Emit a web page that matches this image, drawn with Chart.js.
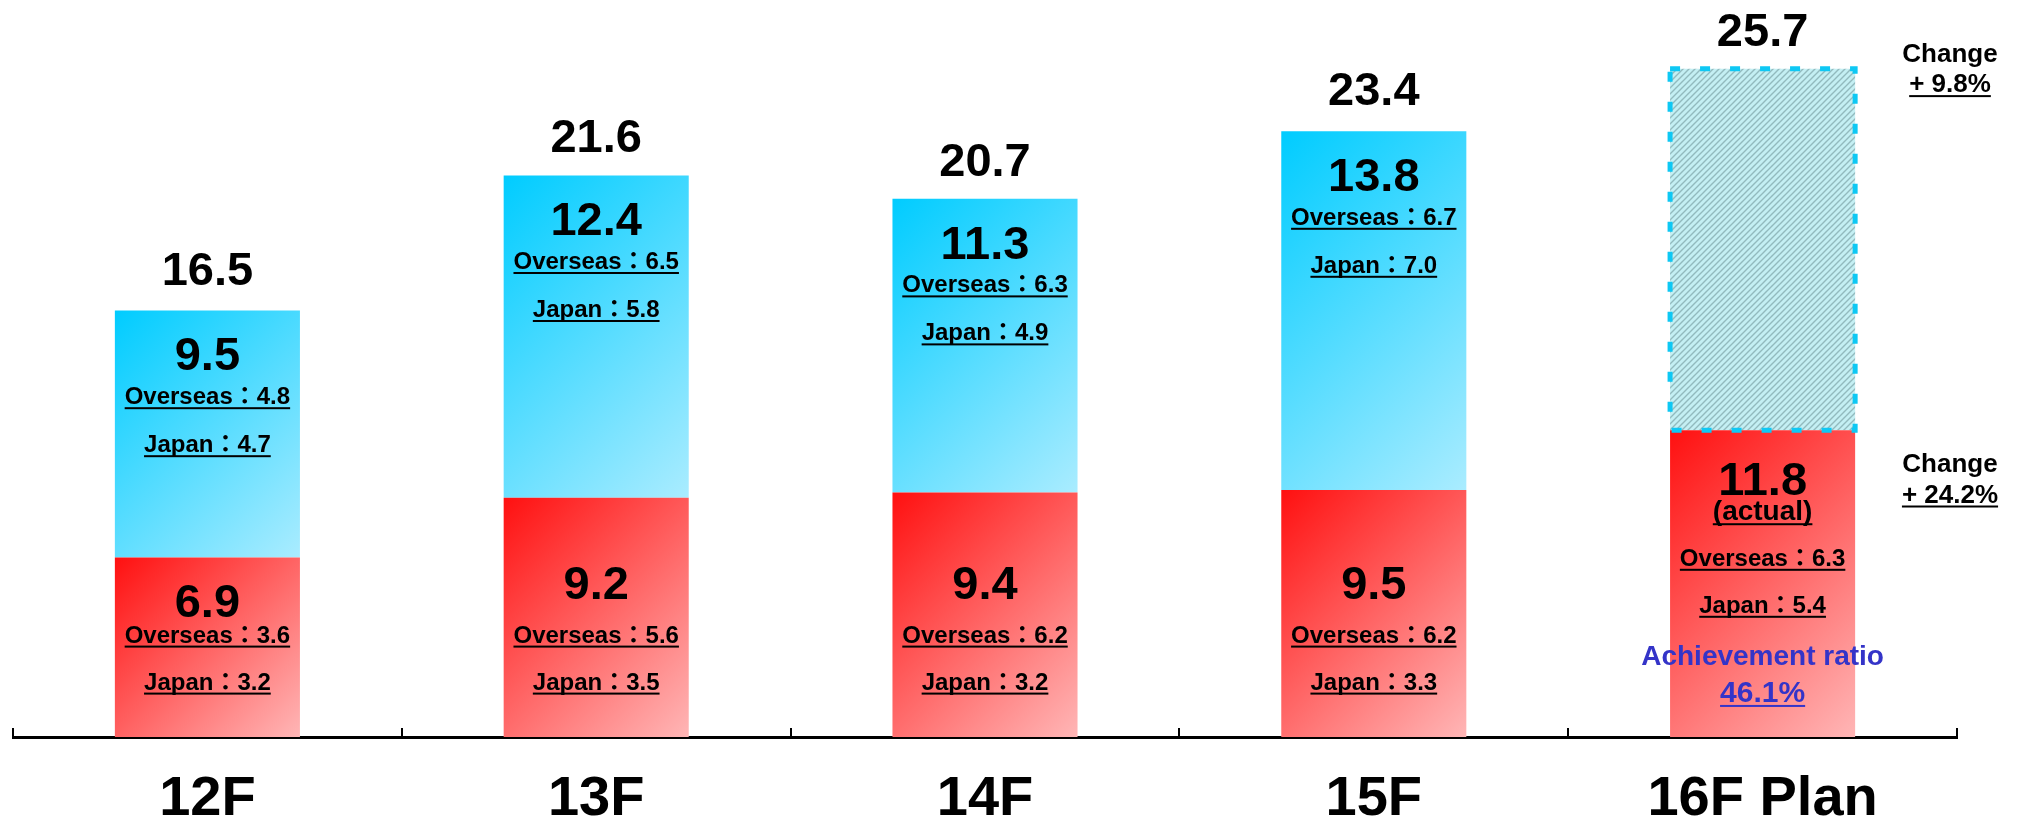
<!DOCTYPE html>
<html>
<head>
<meta charset="utf-8">
<script src="https://cdn.jsdelivr.net/npm/chart.js@4.4.1/dist/chart.umd.min.js"></script>
<style>
  html, body { margin: 0; padding: 0; background: #fff; }
  #wrap { width: 2020px; height: 821px; }
</style>
</head>
<body>
<div id="wrap"><canvas id="sales" width="2020" height="821"></canvas></div>
<script>
// fiscal years and the two halves of each year
var years = ['12F', '13F', '14F', '15F', '16F Plan'];
var firstHalf = [6.9, 9.2, 9.4, 9.5, 11.8];
var secondHalf = [9.5, 12.4, 11.3, 13.8, null];
var totals = [16.5, 21.6, 20.7, 23.4, 25.7];

// breakdown shown inside each segment
var overseasFirst = [3.6, 5.6, 6.2, 6.2, 6.3];
var japanFirst = [3.2, 3.5, 3.2, 3.3, 5.4];
var overseasSecond = [4.8, 6.5, 6.3, 6.7, null];
var japanSecond = [4.7, 5.8, 4.9, 7.0, null];

var planIndex = 4;
var achievementRatio = 46.1;
var changeYear = 9.8;
var changeFirstHalf = 24.2;

// the part of the plan that is not yet reached
var planRest = years.map(function (y, i) {
  return i === planIndex ? Math.round((totals[i] - firstHalf[i]) * 10) / 10 : null;
});

var FONT = '"Liberation Sans", Arial, "Noto Sans CJK JP", sans-serif';
var BAR_SHARE = 0.476;

// 45 degree gradient over one bar segment
function diagonalFill(from, to) {
  return function (context) {
    var chart = context.chart;
    if (!chart.chartArea || context.type !== 'data' || context.raw == null) return from;
    var xs = chart.scales.x, ys = chart.scales.y;
    var base = 0;
    for (var d = 0; d < context.datasetIndex; d++) {
      base += chart.data.datasets[d].data[context.dataIndex] || 0;
    }
    var w = xs.width / years.length * BAR_SHARE;
    var left = xs.getPixelForValue(context.dataIndex) - w / 2;
    var top = ys.getPixelForValue(base + context.raw);
    var h = ys.getPixelForValue(base) - top;
    var s = (w + h) / 2;
    var g = chart.ctx.createLinearGradient(left, top, left + s, top + s);
    g.addColorStop(0, from);
    g.addColorStop(1, to);
    return g;
  };
}

function hatch() {
  var c = document.createElement('canvas');
  c.width = c.height = 6;
  var g = c.getContext('2d');
  g.fillStyle = '#c4eff3';
  g.fillRect(0, 0, 6, 6);
  g.strokeStyle = '#92babe';
  g.lineWidth = 1.4;
  g.beginPath();
  g.moveTo(-1, 7); g.lineTo(7, -1);
  g.moveTo(-1, 1); g.lineTo(1, -1);
  g.moveTo(5, 7); g.lineTo(7, 5);
  g.stroke();
  return g.createPattern(c, 'repeat');
}

// y is the middle of the capitals
function label(ctx, text, x, y, size, color, underline) {
  ctx.font = 'bold ' + size + 'px ' + FONT;
  ctx.fillStyle = color;
  ctx.textAlign = 'center';
  ctx.textBaseline = 'alphabetic';
  var base = y + size * 0.358;
  ctx.fillText(text, x, base);
  if (underline) {
    var w = ctx.measureText(text).width;
    ctx.fillRect(x - w / 2, base + 3, w, 2);
  }
}

var planOutline = {
  id: 'planOutline',
  afterDatasetsDraw: function (chart) {
    var el = chart.getDatasetMeta(2).data[planIndex];
    if (!el) return;
    var p = el.getProps(['x', 'y', 'base', 'width'], true);
    var ctx = chart.ctx;
    ctx.save();
    ctx.strokeStyle = '#0ec8f4';
    ctx.lineWidth = 5;
    ctx.setLineDash([10, 20]);
    ctx.strokeRect(p.x - p.width / 2, p.y, p.width, p.base - p.y);
    ctx.restore();
  }
};

var barNotes = {
  id: 'barNotes',
  afterDraw: function (chart) {
    var ctx = chart.ctx, xs = chart.scales.x, ys = chart.scales.y;
    var bottom = ys.getPixelForValue(0);
    ctx.save();
    years.forEach(function (yr, i) {
      var cx = xs.getPixelForValue(i);
      label(ctx, totals[i].toFixed(1), cx, ys.getPixelForValue(totals[i]) - 40, 47, '#000');

      var redTop = ys.getPixelForValue(firstHalf[i]);
      if (i === planIndex) {
        label(ctx, firstHalf[i].toFixed(1), cx, redTop + 48, 47, '#000');
        label(ctx, '(actual)', cx, redTop + 80, 28, '#000', true);
        label(ctx, 'Overseas\uFF1A' + overseasFirst[i].toFixed(1), cx, redTop + 127, 24, '#000', true);
        label(ctx, 'Japan\uFF1A' + japanFirst[i].toFixed(1), cx, redTop + 174, 24, '#000', true);
        label(ctx, 'Achievement ratio', cx, redTop + 225, 28, '#3434c8');
        label(ctx, achievementRatio.toFixed(1) + '%', cx, redTop + 261, 30, '#3434c8', true);
      } else {
        label(ctx, firstHalf[i].toFixed(1), cx, Math.max(bottom - 155, redTop + 43), 47, '#000');
        label(ctx, 'Overseas\uFF1A' + overseasFirst[i].toFixed(1), cx, bottom - 103, 24, '#000', true);
        label(ctx, 'Japan\uFF1A' + japanFirst[i].toFixed(1), cx, bottom - 56, 24, '#000', true);

        var blueTop = ys.getPixelForValue(firstHalf[i] + secondHalf[i]);
        label(ctx, secondHalf[i].toFixed(1), cx, blueTop + 43, 47, '#000');
        label(ctx, 'Overseas\uFF1A' + overseasSecond[i].toFixed(1), cx, blueTop + 85, 24, '#000', true);
        label(ctx, 'Japan\uFF1A' + japanSecond[i].toFixed(1), cx, blueTop + 133, 24, '#000', true);
      }
    });

    // growth notes to the right of the plan bar
    var nx = chart.chartArea.right - 7;
    var planTop = ys.getPixelForValue(totals[planIndex]);
    label(ctx, 'Change', nx, planTop - 16, 26, '#000');
    label(ctx, '+ ' + changeYear.toFixed(1) + '%', nx, planTop + 14, 26, '#000', true);
    var actualTop = ys.getPixelForValue(firstHalf[planIndex]);
    label(ctx, 'Change', nx, actualTop + 32, 26, '#000');
    label(ctx, '+ ' + changeFirstHalf.toFixed(1) + '%', nx, actualTop + 63, 26, '#000', true);
    ctx.restore();
  }
};

new Chart(document.getElementById('sales'), {
  type: 'bar',
  data: {
    labels: years,
    datasets: [
      {
        label: 'First half',
        data: firstHalf,
        backgroundColor: diagonalFill('#ff1010', '#ffb6b6'),
        borderWidth: 0
      },
      {
        label: 'Second half',
        data: secondHalf,
        backgroundColor: diagonalFill('#00ccff', '#aaecff'),
        borderWidth: 0
      },
      {
        label: 'Plan',
        data: planRest,
        backgroundColor: hatch(),
        borderWidth: 0
      }
    ]
  },
  options: {
    responsive: false,
    animation: false,
    devicePixelRatio: 1,
    categoryPercentage: 1,
    barPercentage: BAR_SHARE,
    layout: { padding: { left: 13, right: 63, top: 9, bottom: 0 } },
    plugins: {
      legend: { display: false },
      tooltip: { enabled: false }
    },
    scales: {
      x: {
        stacked: true,
        grid: { offset: true, drawOnChartArea: false, tickLength: -9, color: '#000', lineWidth: 2 },
        border: { display: true, color: '#000', width: 3 },
        ticks: { color: '#000', padding: 38, font: { family: FONT, size: 56, weight: 'bold' } },
        afterFit: function (scale) { scale.height = 84; }
      },
      y: {
        stacked: true,
        display: false,
        min: 0,
        max: 28
      }
    }
  },
  plugins: [planOutline, barNotes]
});
</script>
</body>
</html>
